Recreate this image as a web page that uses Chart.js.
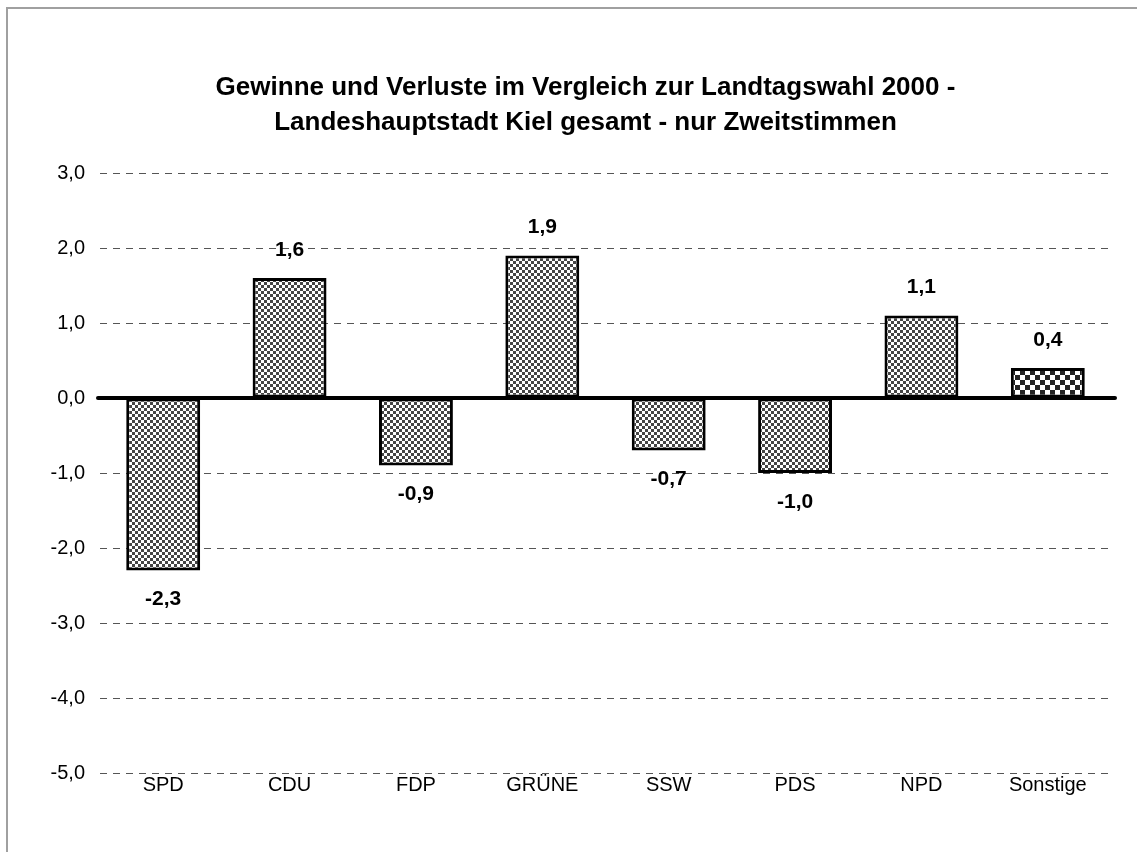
<!DOCTYPE html>
<html>
<head>
<meta charset="utf-8">
<script src="https://cdn.jsdelivr.net/npm/chart.js@4/dist/chart.umd.min.js"></script>
<style>
  body { margin: 0; background: #fff; overflow: hidden; }
  #frame {
    position: absolute; left: 6px; top: 7px; width: 1200px; height: 900px;
    border-left: 2px solid #a0a0a0; border-top: 2px solid #a0a0a0;
  }
  #wrap { position: absolute; left: 0; top: 0; width: 1137px; height: 852px; }
</style>
</head>
<body>
<div id="frame"></div>
<div id="wrap"><canvas id="chart"></canvas></div>
<script>
const parties = ['SPD', 'CDU', 'FDP', 'GRÜNE', 'SSW', 'PDS', 'NPD', 'Sonstige'];
const changes = [-2.3, 1.6, -0.9, 1.9, -0.7, -1.0, 1.1, 0.4];
const titleLines = [
  'Gewinne und Verluste im Vergleich zur Landtagswahl 2000 -',
  'Landeshauptstadt Kiel gesamt - nur Zweitstimmen'
];
const yTicks = [3, 2, 1, 0, -1, -2, -3, -4, -5];

const FONT = '"Liberation Sans", Arial, sans-serif';
const fmt = (v) => v.toFixed(1).replace('.', ',');

// checkerboard fill like the old office chart
const makeChecker = (size, dark, light) => {
  const c = document.createElement('canvas');
  c.width = size * 2;
  c.height = size * 2;
  const g = c.getContext('2d');
  g.fillStyle = light;
  g.fillRect(0, 0, size * 2, size * 2);
  g.fillStyle = dark;
  g.fillRect(0, 0, size, size);
  g.fillRect(size, size, size, size);
  return g.createPattern(c, 'repeat');
};
const smallChecker = makeChecker(3, '#454545', '#ffffff');
const bigChecker = makeChecker(5, '#222222', '#ffffff');

const fills = parties.map((p) => (p === 'Sonstige' ? bigChecker : smallChecker));

// title sits a bit right of the plot centre in the original
const shiftTitle = {
  id: 'shiftTitle',
  afterLayout(chart) {
    if (chart.titleBlock) chart.titleBlock.left += 60;
  }
};

// thick zero line + value labels
const zeroLine = {
  id: 'zeroLine',
  afterDatasetsDraw(chart) {
    const { ctx, chartArea, scales } = chart;
    const y0 = scales.y.getPixelForValue(0);
    ctx.save();
    ctx.strokeStyle = '#000';
    ctx.lineWidth = 4;
    ctx.lineCap = 'round';
    ctx.beginPath();
    ctx.moveTo(chartArea.left - 2, y0);
    ctx.lineTo(chartArea.right + 4, y0);
    ctx.stroke();

    ctx.fillStyle = '#000';
    ctx.font = 'bold 21px ' + FONT;
    ctx.textAlign = 'center';
    ctx.textBaseline = 'middle';
    chart.getDatasetMeta(0).data.forEach((bar, i) => {
      const v = changes[i];
      const y = v >= 0 ? bar.y - 28 : bar.y + 29;
      ctx.fillText(fmt(v), bar.x, y);
    });
    ctx.restore();
  }
};

new Chart(document.getElementById('chart'), {
  type: 'bar',
  data: {
    labels: parties,
    datasets: [
      {
        data: changes,
        backgroundColor: fills,
        borderColor: '#000',
        borderWidth: 3,
        borderSkipped: false,
        categoryPercentage: 1,
        barPercentage: 0.585,
      },
    ],
  },
  options: {
    responsive: true,
    maintainAspectRatio: false,
    animation: false,
    layout: { padding: { left: 0, right: 26, bottom: 0 } },
    plugins: {
      legend: { display: false },
      tooltip: { enabled: false },
      title: {
        display: true,
        text: titleLines,
        color: '#000',
        font: { family: FONT, size: 26, weight: 'bold', lineHeight: 35 / 26 },
        padding: { top: 70, bottom: 33 },
      },
    },
    scales: {
      x: {
        grid: { display: false, drawTicks: false },
        border: { display: false },
        ticks: {
          color: '#000',
          padding: 0,
          font: { family: FONT, size: 20 },
        },
        afterFit(axis) { axis.height = 79; },
      },
      y: {
        min: -5,
        max: 3,
        afterBuildTicks(axis) { axis.ticks = yTicks.map((v) => ({ value: v })); },
        grid: {
          drawTicks: false,
          color: (ctx) => (ctx.tick && ctx.tick.value === 0 ? 'rgba(0,0,0,0)' : '#555'),
          lineWidth: 1,
        },
        border: { display: false, dash: [7, 6] },
        ticks: {
          color: '#000',
          padding: 15,
          font: { family: FONT, size: 20 },
          callback: (v) => fmt(v),
        },
        afterFit(axis) { axis.width = 100; },
      },
    },
  },
  plugins: [shiftTitle, zeroLine],
});
</script>
</body>
</html>
